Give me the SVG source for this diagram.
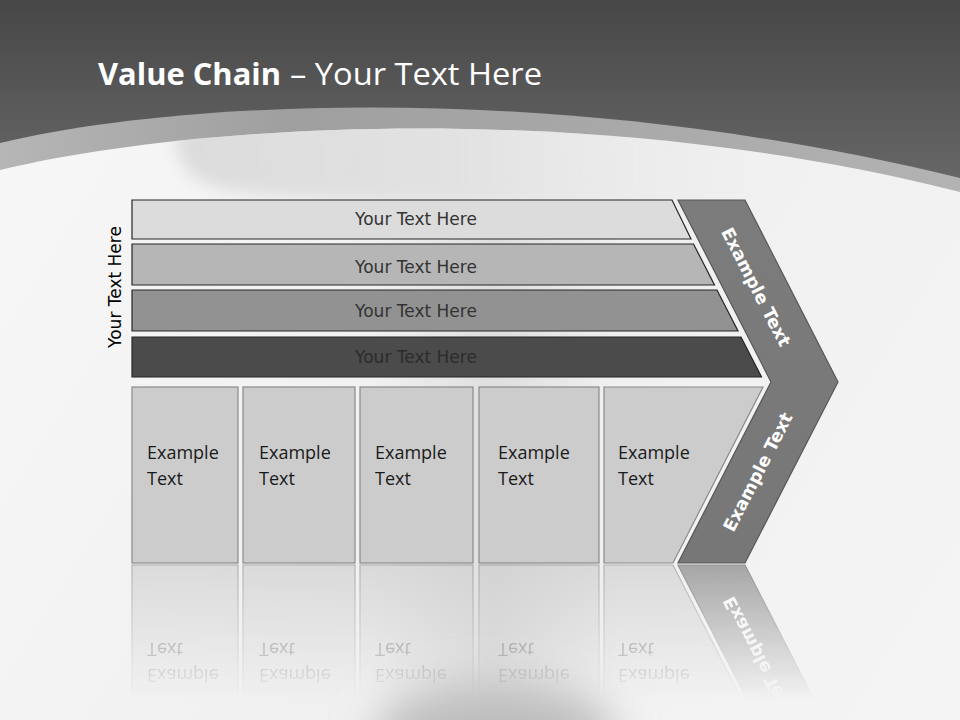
<svg xmlns="http://www.w3.org/2000/svg" xmlns:xlink="http://www.w3.org/1999/xlink" width="960" height="720" viewBox="0 0 960 720">
  <defs>
    <linearGradient id="hdrGrad" x1="0" y1="0" x2="0" y2="200" gradientUnits="userSpaceOnUse">
      <stop offset="0" stop-color="#474747"/>
      <stop offset="1" stop-color="#6a6a6a"/>
    </linearGradient>
    <linearGradient id="bandGrad" x1="0" y1="0" x2="960" y2="0" gradientUnits="userSpaceOnUse">
      <stop offset="0" stop-color="#b6b6b6"/>
      <stop offset="0.3" stop-color="#9f9f9f"/>
      <stop offset="0.55" stop-color="#a6a6a6"/>
      <stop offset="1" stop-color="#b3b3b3"/>
    </linearGradient>
    <linearGradient id="pageGrad" x1="0" y1="120" x2="960" y2="720" gradientUnits="userSpaceOnUse">
      <stop offset="0" stop-color="#f7f7f7"/>
      <stop offset="0.5" stop-color="#f0f0f0"/>
      <stop offset="1" stop-color="#f4f4f4"/>
    </linearGradient>
    <linearGradient id="stripeGrad" x1="370" y1="0" x2="620" y2="0" gradientUnits="userSpaceOnUse">
      <stop offset="0" stop-color="#c4c4c4" stop-opacity="0"/>
      <stop offset="0.5" stop-color="#c4c4c4" stop-opacity="0.4"/>
      <stop offset="1" stop-color="#c4c4c4" stop-opacity="0"/>
    </linearGradient>
    <linearGradient id="shadowGrad" x1="177" y1="0" x2="760" y2="0" gradientUnits="userSpaceOnUse">
      <stop offset="0" stop-color="#cbcbcb"/>
      <stop offset="0.5" stop-color="#d8d8d8"/>
      <stop offset="1" stop-color="#e4e4e4" stop-opacity="0"/>
    </linearGradient>
    <filter id="blur6" x="-20%" y="-60%" width="140%" height="220%">
      <feGaussianBlur stdDeviation="8"/>
    </filter>
    <filter id="blur22" x="-50%" y="-80%" width="200%" height="260%">
      <feGaussianBlur stdDeviation="22"/>
    </filter>
    <clipPath id="pageClip">
      <path d="M0,170 C200,122 600,100 960,192 L960,720 L0,720 Z"/>
    </clipPath>
    <linearGradient id="chevGrad" x1="0" y1="200" x2="0" y2="563" gradientUnits="userSpaceOnUse">
      <stop offset="0" stop-color="#7c7c7c"/>
      <stop offset="1" stop-color="#777777"/>
    </linearGradient>
    <linearGradient id="fadeGrad" x1="0" y1="565" x2="0" y2="700" gradientUnits="userSpaceOnUse">
      <stop offset="0" stop-color="#ffffff" stop-opacity="0.62"/>
      <stop offset="1" stop-color="#ffffff" stop-opacity="0"/>
    </linearGradient>
    <mask id="reflMask" maskUnits="userSpaceOnUse" x="0" y="560" width="960" height="160">
      <rect x="0" y="564" width="960" height="156" fill="url(#fadeGrad)"/>
    </mask>
    <style>
      .bar { stroke: #262626; stroke-width: 1.2; }
      .barText { font-family: "DejaVu Sans", Verdana, sans-serif; font-size: 17px; fill: #333333; text-anchor: middle; }
      .box { fill: #cccccc; stroke: #8a8a8a; stroke-width: 1.2; }
      .boxText { font-family: "Open Sans", "Liberation Sans", sans-serif; font-size: 18px; fill: #1a1a1a; }
      .chevText { font-family: "DejaVu Sans", Verdana, sans-serif; font-size: 17.5px; font-weight: bold; fill: #ffffff; text-anchor: middle; }
      .title { font-family: "Open Sans", "Liberation Sans", sans-serif; font-size: 31px; fill: #ffffff; }
    </style>
  </defs>

  <!-- background -->
  <g id="background">
    <rect x="0" y="0" width="960" height="720" fill="url(#hdrGrad)"/>
    <path d="M0,143 C180,100 560,80 960,178 L960,720 L0,720 Z" fill="url(#bandGrad)"/>
    <path d="M0,170 C200,122 600,100 960,192 L960,720 L0,720 Z" fill="url(#pageGrad)"/>
    <g clip-path="url(#pageClip)">
      <path d="M177,120 L760,110 L760,205 C600,210 320,205 230,190 C195,184 177,165 177,145 Z" fill="url(#shadowGrad)" filter="url(#blur6)" opacity="0.6"/>
    </g>
    <rect x="370" y="200" width="250" height="520" fill="url(#stripeGrad)"/>
    <ellipse cx="495" cy="735" rx="120" ry="50" fill="#bdbdbd" filter="url(#blur22)"/>
  </g>

  <!-- title -->
  <g id="title">
    <text class="title" x="98" y="85" font-weight="bold" textLength="183" lengthAdjust="spacingAndGlyphs">Value Chain</text>
    <text class="title" x="290" y="85" textLength="252" lengthAdjust="spacingAndGlyphs">– Your Text Here</text>
  </g>

  <!-- left vertical label -->
  <g id="side-label">
    <text transform="translate(121 287) rotate(-90)" x="0" y="0" font-family="DejaVu Sans, Verdana, sans-serif" font-size="17" fill="#000000" text-anchor="middle">Your Text Here</text>
  </g>

  <!-- support activity bars -->
  <g id="bar1">
    <polygon class="bar" points="132,200 672,200 691,239 132,239" fill="#dcdcdc"/>
    <text class="barText" x="416" y="225">Your Text Here</text>
  </g>
  <g id="bar2">
    <polygon class="bar" points="132,244 693.5,244 714.5,285 132,285" fill="#b6b6b6"/>
    <text class="barText" x="416" y="273">Your Text Here</text>
  </g>
  <g id="bar3">
    <polygon class="bar" points="132,290 717,290 738,331 132,331" fill="#929292"/>
    <text class="barText" x="416" y="317">Your Text Here</text>
  </g>
  <g id="bar4">
    <polygon class="bar" points="132,337 741,337 761.5,377 132,377" fill="#4b4b4b"/>
    <text class="barText" x="416" y="363" style="fill:#2c2c2c">Your Text Here</text>
  </g>

  <!-- primary activity boxes -->
  <g id="primary">
    <g id="box1">
      <rect class="box" x="132" y="387" width="106" height="176"/>
      <text class="boxText" x="147" y="459">Example</text>
      <text class="boxText" x="147" y="485">Text</text>
    </g>
    <g id="box2">
      <rect class="box" x="243" y="387" width="112" height="176"/>
      <text class="boxText" x="259" y="459">Example</text>
      <text class="boxText" x="259" y="485">Text</text>
    </g>
    <g id="box3">
      <rect class="box" x="360" y="387" width="113" height="176"/>
      <text class="boxText" x="375" y="459">Example</text>
      <text class="boxText" x="375" y="485">Text</text>
    </g>
    <g id="box4">
      <rect class="box" x="479" y="387" width="120" height="176"/>
      <text class="boxText" x="498" y="459">Example</text>
      <text class="boxText" x="498" y="485">Text</text>
    </g>
    <g id="box5">
      <polygon class="box" points="604,387 763,387 673,563 604,563"/>
      <text class="boxText" x="618" y="459">Example</text>
      <text class="boxText" x="618" y="485">Text</text>
    </g>
  </g>

  <!-- margin chevron -->
  <g id="chevron">
    <polygon points="678,200 745,200 838,382 745,563 678,563 771,382" fill="url(#chevGrad)" stroke="#575757" stroke-width="1.2"/>
    <text class="chevText" transform="translate(756 287) rotate(62.9)" x="0" y="6">Example Text</text>
    <text class="chevText" transform="translate(758 472) rotate(-62.9)" x="0" y="6">Example Text</text>
  </g>

  <g id="connectors"/>

  <!-- reflection -->
  <g id="reflection" mask="url(#reflMask)">
    <g transform="translate(0 1128) scale(1 -1)">
      <use href="#primary" xlink:href="#primary"/>
      <use href="#chevron" xlink:href="#chevron"/>
    </g>
  </g>
</svg>
